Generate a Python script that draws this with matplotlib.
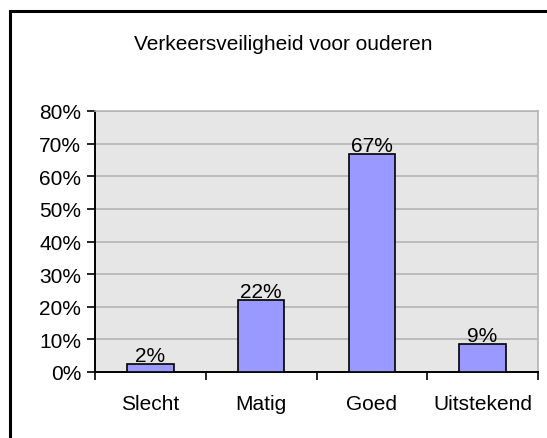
import matplotlib
matplotlib.use("Agg")
import matplotlib.pyplot as plt
from matplotlib.patches import Rectangle
from matplotlib.ticker import FixedLocator, NullFormatter, PercentFormatter

plt.rcParams['font.family'] = ['Liberation Sans', 'DejaVu Sans']

title = "Verkeersveiligheid voor ouderen"
categories = ["Slecht", "Matig", "Goed", "Uitstekend"]
values = [0.024, 0.222, 0.668, 0.086]
labels = ["2%", "22%", "67%", "9%"]
yticks = [0.0, 0.1, 0.2, 0.3, 0.4, 0.5, 0.6, 0.7, 0.8]

FS = 15
W, H = 547, 439
fig = plt.figure(figsize=(W / 100, H / 100), dpi=100)
fig.patch.set_facecolor("white")

# outer chart border
fig.patches.append(Rectangle((10 / W, -0.1), 1.2, 1 - 12 / H + 0.1,
                             transform=fig.transFigure, fill=False,
                             edgecolor="black", linewidth=2.2, zorder=0))

ax = fig.add_axes([95 / W, 1 - 373 / H, (538 - 95) / W, (373 - 112) / H])
ax.set_facecolor("#e6e6e6")

x = list(range(len(categories)))
bars = ax.bar(x, values, width=0.42, color="#9999ff", edgecolor="black",
              linewidth=1.2, zorder=3)
for xi, v, lab in zip(x, values, labels):
    ax.text(xi, v - 0.003, lab, ha="center", va="bottom", fontsize=FS, zorder=4)

ax.set_xlim(-0.5, len(categories) - 0.5)
ax.set_ylim(0, 0.8)
ax.yaxis.set_major_locator(FixedLocator(yticks))
ax.yaxis.set_major_formatter(PercentFormatter(1.0, decimals=0))
ax.grid(axis="y", color="#b4b4b4", linewidth=1.2, zorder=1)
ax.set_axisbelow(True)

ax.xaxis.set_major_locator(FixedLocator([i - 0.5 for i in range(len(categories) + 1)]))
ax.xaxis.set_major_formatter(NullFormatter())
ax.xaxis.set_minor_locator(FixedLocator(x))
ax.set_xticklabels(categories, minor=True)
ax.tick_params(axis="x", which="minor", length=0, pad=16, labelsize=FS)
ax.tick_params(axis="x", which="major", length=6, width=1.2, direction="out")
ax.tick_params(axis="y", length=6, width=1.2, direction="out", labelsize=FS, pad=4)

for s in ["top", "right"]:
    ax.spines[s].set_color("#b4b4b4")
    ax.spines[s].set_linewidth(1.2)
for s in ["left", "bottom"]:
    ax.spines[s].set_color("black")
    ax.spines[s].set_linewidth(1.4)

fig.text(283 / W, 1 - 45 / H, title, ha="center", va="center", fontsize=FS)

fig.savefig("out.png", dpi=100)
